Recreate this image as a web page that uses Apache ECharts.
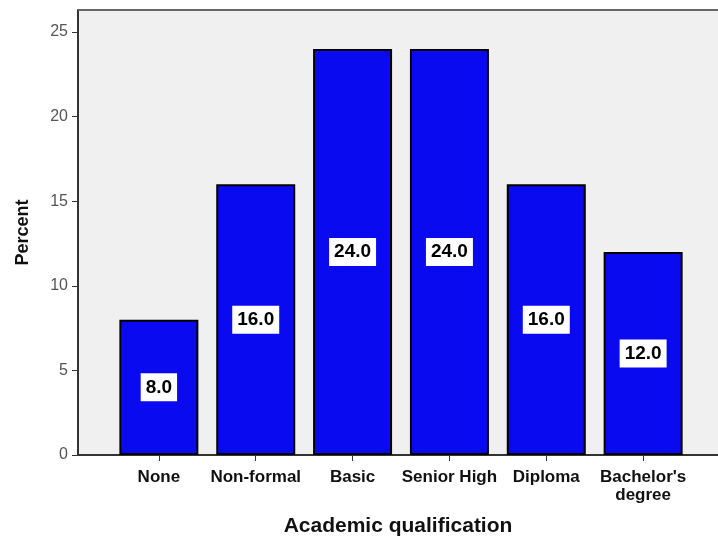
<!DOCTYPE html>
<html>
<head>
<meta charset="utf-8">
<script src="https://cdn.jsdelivr.net/npm/echarts@6/dist/echarts.min.js"></script>
<style>
html,body{margin:0;padding:0;background:#fff;}
#chart{width:718px;height:542px;}
</style>
</head>
<body>
<div id="chart"></div>
<script>
var categories = ["None", "Non-formal", "Basic", "Senior High", "Diploma", "Bachelor's\ndegree"];
var percentValues = [8.0, 16.0, 24.0, 24.0, 16.0, 12.0];
var yTicks = [0, 5, 10, 15, 20, 25];
var xPositions = [0, 1, 2, 3, 4, 5];

var FONT = "'Liberation Sans', Arial, sans-serif";
var chart = echarts.init(document.getElementById('chart'));
chart.setOption({
  backgroundColor: '#ffffff',
  animation: false,
  grid: {
    left: 78, right: 0, top: 10, bottom: 86,
    show: true, backgroundColor: '#f0f0f0', borderColor: '#777', borderWidth: 0
  },
  xAxis: {
    type: 'value',
    min: -0.835,
    max: 5.773,
    name: 'Academic qualification',
    nameLocation: 'middle',
    nameGap: 61,
    nameTextStyle: { fontFamily: FONT, fontWeight: 'bold', fontSize: 21, color: '#111' },
    splitLine: { show: false },
    axisLine: { show: true, onZero: false, lineStyle: { color: '#333', width: 2 } },
    axisTick: { show: true, customValues: xPositions, length: 6, lineStyle: { color: '#333', width: 1 } },
    axisLabel: {
      customValues: xPositions,
      fontFamily: FONT, fontWeight: 'bold', fontSize: 17, color: '#111',
      margin: 13, lineHeight: 18,
      formatter: function (v) { return categories[Math.round(v)]; }
    }
  },
  yAxis: {
    type: 'value',
    min: 0,
    max: 26.3,
    name: 'Percent',
    nameLocation: 'middle',
    nameGap: 46,
    nameRotate: 90,
    nameTextStyle: { fontFamily: FONT, fontWeight: 'bold', fontSize: 18, color: '#111' },
    splitLine: { show: false },
    axisLine: { show: true, onZero: false, lineStyle: { color: '#333', width: 2 } },
    axisTick: { show: true, customValues: yTicks, length: 6, lineStyle: { color: '#333', width: 1 } },
    axisLabel: { customValues: yTicks, fontFamily: FONT, fontSize: 16, color: '#555', margin: 10 }
  },
  graphic: [{
    type: 'line',
    shape: { x1: 78, y1: 10, x2: 718, y2: 10 },
    style: { stroke: '#666', lineWidth: 2 },
    z: 10
  }],
  series: [{
    type: 'bar',
    barWidth: 79,
    data: xPositions.map(function (x, i) { return [x, percentValues[i]]; }),
    itemStyle: {
      color: '#0a0af0',
      borderColor: '#000',
      borderWidth: 2
    },
    label: {
      show: true,
      position: 'inside',
      formatter: function (p) { return p.value[1].toFixed(1); },
      fontFamily: FONT, fontWeight: 'bold', fontSize: 19, color: '#000',
      backgroundColor: '#fff',
      padding: [5, 5, 4, 5]
    }
  }]
});
</script>
</body>
</html>
